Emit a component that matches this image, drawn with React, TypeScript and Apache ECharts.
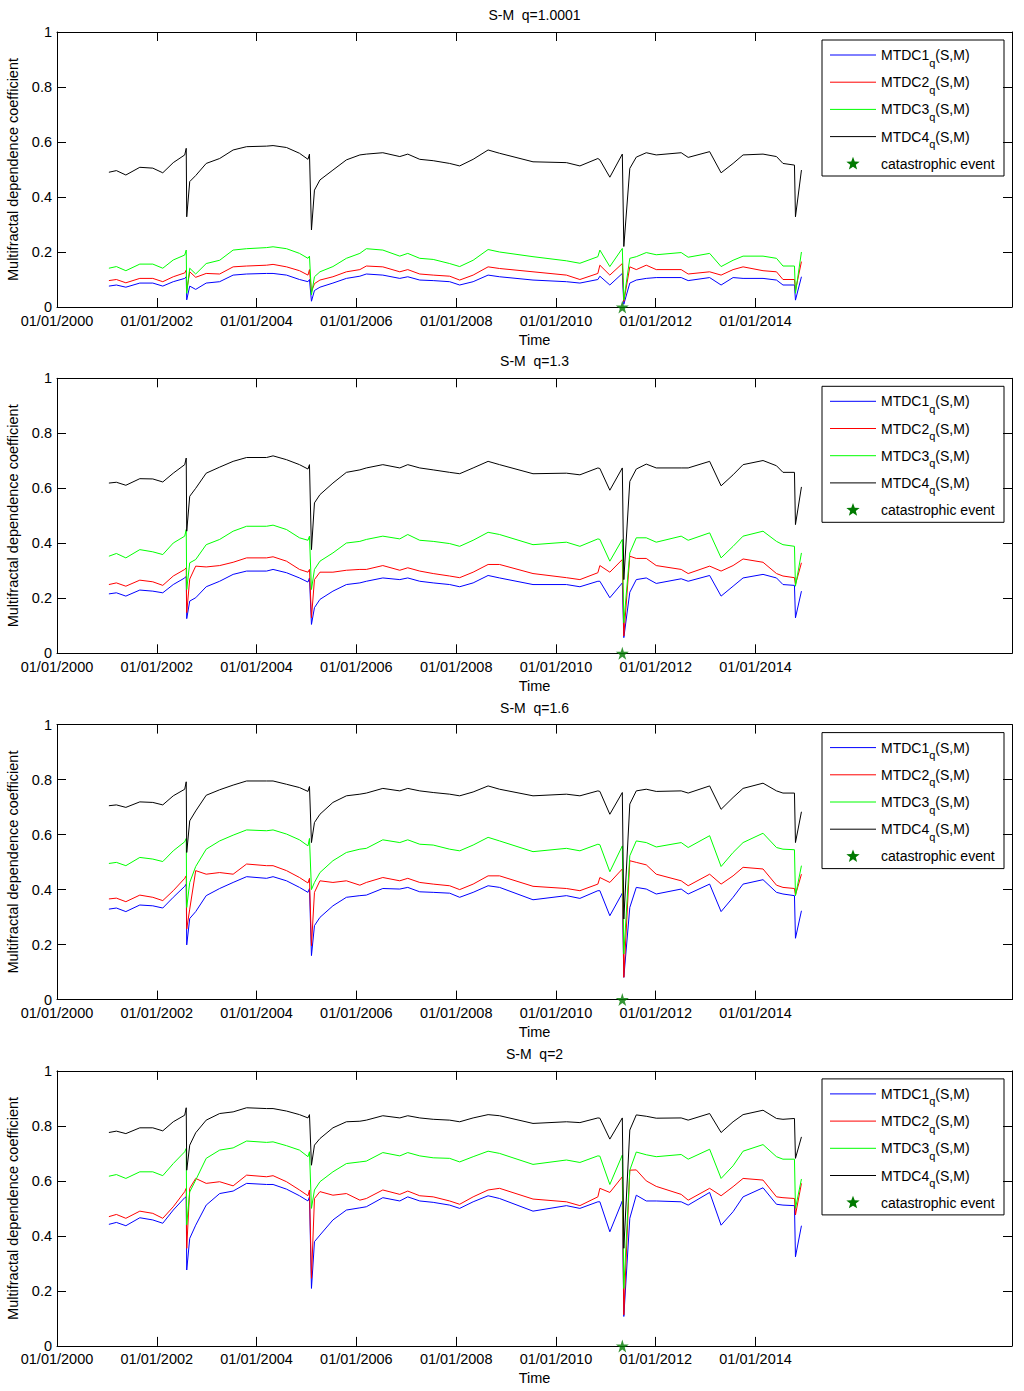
import React, { useEffect, useRef } from "react";
import * as echarts from "echarts";

// time in decimal years, shared by every panel
const TIME = [
  2001.04, 2001.19, 2001.38, 2001.66, 2001.92, 2002.12, 2002.33, 2002.56, 2002.59, 2002.6,
  2002.66, 2002.78, 2002.99, 2003.26, 2003.53, 2003.8, 2004.2, 2004.33, 2004.6, 2004.86,
  2005.03, 2005.06, 2005.1, 2005.16, 2005.27, 2005.53, 2005.8, 2006.07, 2006.2, 2006.53,
  2006.87, 2007.03, 2007.27, 2007.54, 2007.87, 2008.07, 2008.34, 2008.64, 2008.87, 2009.54,
  2010.21, 2010.48, 2010.84, 2010.88, 2011.08, 2011.33, 2011.36, 2011.48, 2011.61, 2011.81,
  2012.01, 2012.51, 2012.65, 2013.08, 2013.31, 2013.55, 2013.75, 2014.15, 2014.42, 2014.55,
  2014.78, 2014.8, 2014.92,
];

const EVENT_TIME = 2011.33;
const X_TICKS = [2000, 2002, 2004, 2006, 2008, 2010, 2012, 2014];
const Q_VALUES = ["1.0001", "1.3", "1.6", "2"];

// q = 1.0001
const mtdc1_q10001 = [
  0.076, 0.08, 0.072, 0.087, 0.087, 0.076, 0.092, 0.104, 0.11, 0.026,
  0.076, 0.064, 0.087, 0.092, 0.116, 0.12, 0.122, 0.122, 0.116, 0.1,
  0.092, 0.1, 0.021, 0.06, 0.072, 0.087, 0.104, 0.112, 0.12, 0.116,
  0.104, 0.11, 0.098, 0.096, 0.092, 0.08, 0.092, 0.116, 0.11, 0.098,
  0.092, 0.087, 0.1, 0.112, 0.08, 0.122, 0.01, 0.087, 0.098, 0.104,
  0.107, 0.107, 0.096, 0.107, 0.08, 0.107, 0.104, 0.104, 0.098, 0.08,
  0.08, 0.025, 0.11,
];
const mtdc2_q10001 = [
  0.096, 0.1, 0.088, 0.104, 0.104, 0.092, 0.11, 0.124, 0.134, 0.06,
  0.128, 0.108, 0.122, 0.12, 0.146, 0.149, 0.152, 0.155, 0.146, 0.132,
  0.116, 0.136, 0.055, 0.085, 0.098, 0.11, 0.128, 0.136, 0.149, 0.146,
  0.128, 0.136, 0.12, 0.116, 0.112, 0.098, 0.116, 0.146, 0.14, 0.128,
  0.116, 0.1, 0.122, 0.152, 0.116, 0.158, 0.02, 0.146, 0.136, 0.152,
  0.136, 0.136, 0.12, 0.128, 0.116, 0.136, 0.146, 0.132, 0.128, 0.1,
  0.1, 0.06, 0.165,
];
const mtdc3_q10001 = [
  0.141, 0.147, 0.132, 0.156, 0.156, 0.141, 0.171, 0.189, 0.207, 0.05,
  0.141, 0.12, 0.158, 0.17, 0.207, 0.212, 0.216, 0.219, 0.212, 0.195,
  0.177, 0.185, 0.044, 0.11, 0.128, 0.147, 0.177, 0.195, 0.212, 0.207,
  0.185, 0.195, 0.177, 0.173, 0.158, 0.147, 0.17, 0.209, 0.2, 0.183,
  0.168, 0.159, 0.183, 0.207, 0.147, 0.213, 0.025, 0.177, 0.183, 0.198,
  0.19, 0.198, 0.181, 0.195, 0.147, 0.17, 0.185, 0.185, 0.177, 0.149,
  0.149, 0.05, 0.2,
];
const mtdc4_q10001 = [
  0.49, 0.496, 0.48, 0.508, 0.505, 0.488, 0.525, 0.553, 0.577, 0.328,
  0.456, 0.478, 0.522, 0.54, 0.571, 0.583, 0.585, 0.587, 0.58, 0.559,
  0.537, 0.556, 0.28, 0.425, 0.462, 0.498, 0.535, 0.553, 0.556, 0.561,
  0.547, 0.556, 0.537, 0.532, 0.522, 0.513, 0.537, 0.571, 0.559, 0.528,
  0.525, 0.513, 0.54, 0.535, 0.472, 0.556, 0.22, 0.504, 0.545, 0.561,
  0.553, 0.561, 0.544, 0.565, 0.488, 0.522, 0.553, 0.556, 0.547, 0.522,
  0.516, 0.328, 0.498,
];

// q = 1.3
const mtdc1_q13 = [
  0.216, 0.22, 0.208, 0.23, 0.226, 0.22, 0.25, 0.274, 0.28, 0.126,
  0.19, 0.202, 0.242, 0.262, 0.287, 0.299, 0.299, 0.305, 0.293, 0.274,
  0.259, 0.274, 0.105, 0.166, 0.196, 0.226, 0.25, 0.256, 0.262, 0.274,
  0.268, 0.274, 0.262, 0.256, 0.25, 0.242, 0.256, 0.283, 0.274, 0.25,
  0.25, 0.242, 0.262, 0.262, 0.202, 0.256, 0.057, 0.222, 0.268, 0.274,
  0.254, 0.271, 0.262, 0.283, 0.208, 0.244, 0.274, 0.287, 0.274, 0.25,
  0.247, 0.129, 0.226,
];
const mtdc2_q13 = [
  0.25, 0.256, 0.244, 0.266, 0.26, 0.247, 0.281, 0.305, 0.311, 0.148,
  0.27, 0.317, 0.314, 0.319, 0.331, 0.347, 0.347, 0.351, 0.335, 0.305,
  0.295, 0.305, 0.129, 0.268, 0.295, 0.295, 0.302, 0.305, 0.305, 0.319,
  0.302, 0.311, 0.299, 0.29, 0.281, 0.275, 0.295, 0.323, 0.323, 0.29,
  0.275, 0.268, 0.293, 0.319, 0.295, 0.341, 0.063, 0.353, 0.345, 0.345,
  0.319, 0.305, 0.29, 0.317, 0.299, 0.319, 0.343, 0.331, 0.29, 0.281,
  0.275, 0.25, 0.329,
];
const mtdc3_q13 = [
  0.353, 0.363, 0.347, 0.377, 0.369, 0.359, 0.401, 0.426, 0.45, 0.232,
  0.329, 0.341, 0.395, 0.414, 0.444, 0.462, 0.462, 0.466, 0.45, 0.42,
  0.411, 0.426, 0.232, 0.305, 0.335, 0.365, 0.401, 0.407, 0.414, 0.426,
  0.416, 0.432, 0.411, 0.407, 0.399, 0.389, 0.411, 0.44, 0.432, 0.395,
  0.404, 0.389, 0.416, 0.414, 0.335, 0.414, 0.111, 0.365, 0.42, 0.42,
  0.404, 0.426, 0.411, 0.438, 0.347, 0.389, 0.426, 0.444, 0.407, 0.395,
  0.389, 0.244, 0.365,
];
const mtdc4_q13 = [
  0.619, 0.622, 0.611, 0.635, 0.634, 0.623, 0.655, 0.686, 0.71, 0.444,
  0.571, 0.6, 0.655, 0.677, 0.698, 0.712, 0.712, 0.718, 0.704, 0.686,
  0.67, 0.686, 0.377, 0.547, 0.577, 0.619, 0.658, 0.667, 0.674, 0.686,
  0.674, 0.686, 0.674, 0.667, 0.658, 0.653, 0.674, 0.698, 0.686, 0.653,
  0.655, 0.649, 0.674, 0.672, 0.593, 0.674, 0.268, 0.625, 0.67, 0.688,
  0.674, 0.674, 0.674, 0.698, 0.609, 0.649, 0.686, 0.701, 0.682, 0.658,
  0.658, 0.468, 0.605,
];

// q = 1.6
const mtdc1_q16 = [
  0.329, 0.333, 0.32, 0.344, 0.341, 0.333, 0.372, 0.412, 0.42, 0.199,
  0.295, 0.32, 0.378, 0.404, 0.426, 0.447, 0.441, 0.447, 0.432, 0.408,
  0.39, 0.404, 0.16, 0.269, 0.299, 0.341, 0.372, 0.378, 0.38, 0.404,
  0.402, 0.408, 0.392, 0.39, 0.387, 0.372, 0.39, 0.414, 0.408, 0.363,
  0.378, 0.368, 0.396, 0.396, 0.305, 0.387, 0.081, 0.335, 0.408, 0.402,
  0.384, 0.402, 0.384, 0.42, 0.32, 0.372, 0.42, 0.436, 0.39, 0.384,
  0.378, 0.223, 0.323,
];
const mtdc2_q16 = [
  0.366, 0.369, 0.356, 0.38, 0.372, 0.36, 0.396, 0.441, 0.45, 0.257,
  0.329, 0.469, 0.456, 0.462, 0.456, 0.493, 0.487, 0.487, 0.469, 0.444,
  0.424, 0.441, 0.196, 0.39, 0.432, 0.426, 0.432, 0.416, 0.426, 0.444,
  0.432, 0.441, 0.426, 0.42, 0.414, 0.4, 0.42, 0.45, 0.45, 0.412,
  0.404, 0.396, 0.42, 0.444, 0.426, 0.475, 0.081, 0.505, 0.499, 0.49,
  0.456, 0.432, 0.414, 0.456, 0.42, 0.45, 0.481, 0.475, 0.416, 0.408,
  0.404, 0.38, 0.456,
];
const mtdc3_q16 = [
  0.495, 0.499, 0.487, 0.517, 0.511, 0.502, 0.541, 0.574, 0.586, 0.335,
  0.426, 0.484, 0.547, 0.577, 0.598, 0.617, 0.614, 0.617, 0.602, 0.581,
  0.559, 0.586, 0.4, 0.426, 0.462, 0.505, 0.535, 0.547, 0.55, 0.581,
  0.571, 0.581, 0.565, 0.562, 0.547, 0.541, 0.562, 0.59, 0.577, 0.538,
  0.55, 0.541, 0.565, 0.563, 0.465, 0.559, 0.166, 0.523, 0.577, 0.571,
  0.555, 0.571, 0.553, 0.596, 0.484, 0.535, 0.571, 0.605, 0.553, 0.547,
  0.545, 0.378, 0.487,
];
const mtdc4_q16 = [
  0.705, 0.708, 0.699, 0.719, 0.717, 0.708, 0.741, 0.765, 0.792, 0.535,
  0.65, 0.686, 0.743, 0.763, 0.78, 0.795, 0.795, 0.795, 0.783, 0.771,
  0.757, 0.775, 0.571, 0.644, 0.674, 0.717, 0.741, 0.747, 0.751, 0.768,
  0.759, 0.768, 0.759, 0.753, 0.747, 0.741, 0.755, 0.777, 0.765, 0.741,
  0.747, 0.741, 0.759, 0.757, 0.674, 0.753, 0.293, 0.711, 0.759, 0.765,
  0.757, 0.759, 0.751, 0.777, 0.692, 0.735, 0.768, 0.787, 0.759, 0.751,
  0.751, 0.571, 0.683,
];

// q = 2
const mtdc1_q2 = [
  0.442, 0.449, 0.437, 0.466, 0.458, 0.446, 0.494, 0.539, 0.542, 0.276,
  0.391, 0.439, 0.512, 0.554, 0.563, 0.591, 0.587, 0.587, 0.57, 0.546,
  0.527, 0.542, 0.209, 0.379, 0.403, 0.458, 0.494, 0.502, 0.506, 0.539,
  0.527, 0.542, 0.527, 0.522, 0.512, 0.5, 0.524, 0.546, 0.536, 0.49,
  0.51, 0.5, 0.524, 0.524, 0.415, 0.527, 0.107, 0.464, 0.548, 0.527,
  0.527, 0.524, 0.512, 0.558, 0.439, 0.488, 0.542, 0.575, 0.515, 0.512,
  0.51, 0.324, 0.437,
];
const mtdc2_q2 = [
  0.47, 0.478, 0.464, 0.49, 0.482, 0.464, 0.506, 0.561, 0.573, 0.355,
  0.573, 0.609, 0.591, 0.597, 0.582, 0.621, 0.615, 0.619, 0.597, 0.567,
  0.546, 0.567, 0.246, 0.536, 0.561, 0.548, 0.554, 0.53, 0.536, 0.567,
  0.551, 0.563, 0.546, 0.542, 0.527, 0.515, 0.542, 0.567, 0.573, 0.534,
  0.524, 0.51, 0.542, 0.573, 0.558, 0.615, 0.113, 0.639, 0.64, 0.6,
  0.58, 0.551, 0.53, 0.573, 0.546, 0.579, 0.609, 0.603, 0.542, 0.539,
  0.536, 0.476, 0.591,
];
const mtdc3_q2 = [
  0.617, 0.623, 0.609, 0.633, 0.633, 0.619, 0.663, 0.706, 0.718, 0.44,
  0.56, 0.603, 0.682, 0.712, 0.72, 0.745, 0.74, 0.742, 0.728, 0.712,
  0.688, 0.706, 0.5, 0.567, 0.597, 0.633, 0.663, 0.669, 0.672, 0.703,
  0.691, 0.703, 0.691, 0.684, 0.682, 0.669, 0.688, 0.708, 0.7, 0.66,
  0.676, 0.667, 0.691, 0.69, 0.587, 0.694, 0.209, 0.639, 0.705, 0.695,
  0.688, 0.696, 0.679, 0.715, 0.609, 0.655, 0.708, 0.732, 0.688, 0.679,
  0.679, 0.5, 0.607,
];
const mtdc4_q2 = [
  0.776, 0.781, 0.772, 0.793, 0.793, 0.782, 0.815, 0.839, 0.866, 0.639,
  0.73, 0.775, 0.821, 0.845, 0.851, 0.866, 0.863, 0.863, 0.854, 0.841,
  0.829, 0.841, 0.657, 0.73, 0.754, 0.793, 0.815, 0.817, 0.821, 0.837,
  0.829, 0.837, 0.829, 0.824, 0.821, 0.815, 0.829, 0.841, 0.837, 0.809,
  0.815, 0.812, 0.829, 0.828, 0.752, 0.829, 0.355, 0.785, 0.84, 0.835,
  0.828, 0.829, 0.821, 0.845, 0.776, 0.815, 0.841, 0.857, 0.827, 0.824,
  0.827, 0.682, 0.76,
];

const PANEL_VALUES = [
  [mtdc1_q10001, mtdc2_q10001, mtdc3_q10001, mtdc4_q10001],
  [mtdc1_q13, mtdc2_q13, mtdc3_q13, mtdc4_q13],
  [mtdc1_q16, mtdc2_q16, mtdc3_q16, mtdc4_q16],
  [mtdc1_q2, mtdc2_q2, mtdc3_q2, mtdc4_q2],
];

const SERIES_NAMES = ["MTDC1", "MTDC2", "MTDC3", "MTDC4"];
const EVENT_NAME = "catastrophic event";
const COLORS = ["#0000ff", "#ff0000", "#00ff00", "#000000"];
const EVENT_COLOR = "#007a00";
const STAR =
  "path://M50,0 L61,35 L98,35 L68,57 L79,91 L50,70 L21,91 L32,57 L2,35 L39,35 Z";

const FONT = "'Liberation Sans', Arial, sans-serif";
const X_MIN = 2000;
const X_MAX = 2019.14;
const LEFT = 57;
const RIGHT = 12;
const TOP = 32;
const HEIGHT = 275;
const STEP = 346.3;

const label = { fontFamily: FONT, fontSize: 14.5, color: "#000" };
const black = { color: "#000", width: 1 };

// star outline for the legend key, centred on (cx, cy)
function starPoints(cx: number, cy: number, r: number) {
  const pts: number[][] = [];
  for (let j = 0; j < 10; j++) {
    const a = -Math.PI / 2 + (j * Math.PI) / 5;
    const rr = j % 2 === 0 ? r : r * 0.42;
    pts.push([cx + rr * Math.cos(a), cy + rr * Math.sin(a)]);
  }
  return pts;
}

// MATLAB-style boxed legend, one per panel
function legendBox(panel: number) {
  const y0 = TOP + panel * STEP + 8;
  const rowY = (r: number) => y0 + 15 + r * 27.2;
  const children: any[] = [
    {
      type: "rect",
      shape: { x: 822, y: y0, width: 182, height: 136 },
      style: { fill: "#fff", stroke: "#000", lineWidth: 1 },
    },
  ];
  SERIES_NAMES.forEach((name, k) => {
    children.push({
      type: "line",
      shape: { x1: 830, y1: rowY(k), x2: 876, y2: rowY(k) },
      style: { stroke: COLORS[k], lineWidth: 1 },
    });
    children.push({
      type: "text",
      x: 881,
      y: rowY(k),
      style: {
        text: `${name}{sub|q}(S,M)`,
        fontFamily: FONT,
        fontSize: 14,
        fill: "#000",
        verticalAlign: "middle",
        lineHeight: 26,
        rich: {
          sub: { fontFamily: FONT, fontSize: 11, fill: "#000", lineHeight: 11, verticalAlign: "bottom" },
        },
      },
    });
  });
  children.push({
    type: "polygon",
    shape: { points: starPoints(853, rowY(4), 7) },
    style: { fill: EVENT_COLOR },
  });
  children.push({
    type: "text",
    x: 881,
    y: rowY(4),
    style: { text: EVENT_NAME, fontFamily: FONT, fontSize: 14, fill: "#000", verticalAlign: "middle" },
  });
  return { type: "group", z: 10, children };
}

function buildOption() {
  const panels = Q_VALUES.map((_, i) => i);

  const bottomX = panels.map((i) => ({
    type: "value",
    gridIndex: i,
    min: X_MIN,
    max: X_MAX,
    position: "bottom",
    axisLine: { show: true, onZero: false, lineStyle: black },
    axisTick: { show: true, inside: true, length: 9, customValues: X_TICKS, lineStyle: black },
    axisLabel: {
      ...label,
      margin: 6,
      customValues: X_TICKS,
      formatter: (v: number) => "01/01/" + Math.round(v),
    },
    splitLine: { show: false },
    name: "Time",
    nameLocation: "middle",
    nameGap: 25,
    nameTextStyle: label,
  }));
  const topX = panels.map((i) => ({
    type: "value",
    gridIndex: i,
    min: X_MIN,
    max: X_MAX,
    position: "top",
    axisLine: { show: true, onZero: false, lineStyle: black },
    axisTick: { show: true, inside: true, length: 9, customValues: X_TICKS, lineStyle: black },
    axisLabel: { show: false },
    splitLine: { show: false },
  }));
  const leftY = panels.map((i) => ({
    type: "value",
    gridIndex: i,
    min: 0,
    max: 1,
    interval: 0.2,
    position: "left",
    axisLine: { show: true, onZero: false, lineStyle: black },
    axisTick: { show: true, inside: true, length: 9, lineStyle: black },
    axisLabel: { ...label, margin: 5 },
    splitLine: { show: false },
    name: "Multifractal dependence coefficient",
    nameLocation: "middle",
    nameGap: 33,
    nameRotate: 90,
    nameTextStyle: label,
  }));
  const rightY = panels.map((i) => ({
    type: "value",
    gridIndex: i,
    min: 0,
    max: 1,
    interval: 0.2,
    position: "right",
    axisLine: { show: true, onZero: false, lineStyle: black },
    axisTick: { show: true, inside: true, length: 9, lineStyle: black },
    axisLabel: { show: false },
    splitLine: { show: false },
  }));

  const series: any[] = [];
  panels.forEach((i) => {
    PANEL_VALUES[i].forEach((vals, k) => {
      series.push({
        type: "line",
        name: SERIES_NAMES[k],
        xAxisIndex: i,
        yAxisIndex: i,
        data: TIME.map((t, j) => [t, vals[j]]),
        symbol: "none",
        showSymbol: false,
        lineStyle: { color: COLORS[k], width: 1 },
        itemStyle: { color: COLORS[k] },
      });
    });
    series.push({
      type: "scatter",
      name: EVENT_NAME,
      xAxisIndex: i,
      yAxisIndex: i,
      data: [[EVENT_TIME, 0]],
      symbol: STAR,
      symbolSize: 13,
      itemStyle: { color: EVENT_COLOR },
      clip: false,
      z: 5,
    });
  });

  return {
    animation: false,
    backgroundColor: "#fff",
    grid: panels.map((i) => ({
      left: LEFT,
      right: RIGHT,
      top: TOP + i * STEP,
      height: HEIGHT,
      containLabel: false,
      outerBoundsMode: "none",
    })),
    xAxis: [...bottomX, ...topX],
    yAxis: [...leftY, ...rightY],
    graphic: [
      ...panels.map((i) => ({
        type: "text",
        x: LEFT + (1024 - LEFT - RIGHT) / 2,
        y: TOP + i * STEP - 24,
        style: { text: `S-M  q=${Q_VALUES[i]}`, font: `14px ${FONT}`, fill: "#000", textAlign: "center" },
      })),
      ...panels.map((i) => legendBox(i)),
    ],
    series,
  };
}

export default function App() {
  const ref = useRef<HTMLDivElement>(null);

  useEffect(() => {
    if (!ref.current) return;
    const chart = echarts.init(ref.current, undefined, { renderer: "svg" });
    chart.setOption(buildOption() as any);
    return () => chart.dispose();
  }, []);

  return (
    <div
      ref={ref}
      style={{ position: "absolute", left: 0, top: 0, width: 1024, height: 1391 }}
    />
  );
}
